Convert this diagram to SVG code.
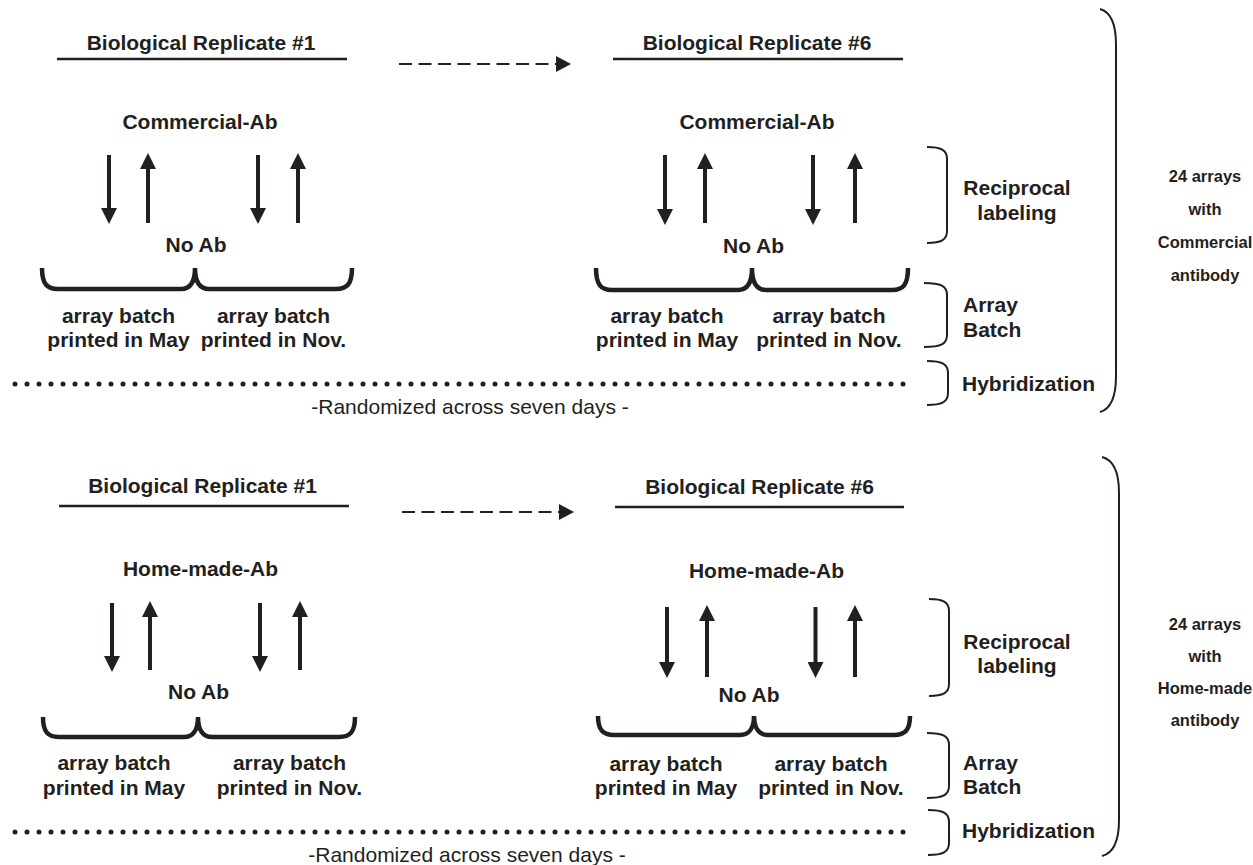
<svg xmlns="http://www.w3.org/2000/svg" width="1253" height="865" viewBox="0 0 1253 865">
<defs>
<style>
.t{font-family:"Liberation Sans",Arial,Helvetica,sans-serif;font-weight:bold;font-size:21px;fill:#231f20;text-anchor:middle}
.r{font-weight:normal;font-size:21px}
.l{text-anchor:start}
.big{font-size:16.5px}
.rule{stroke:#231f20;stroke-width:2.5;fill:none}
.arr{stroke:#231f20;stroke-width:4;fill:none;marker-end:url(#ah)}
.dash{stroke:#231f20;stroke-width:2;fill:none;stroke-dasharray:13 6.5;marker-end:url(#dh)}
.brace{fill:none;stroke:#231f20;stroke-width:4.5}
.sb{fill:none;stroke:#231f20;stroke-width:2}
.dots{stroke:#231f20;stroke-width:5;stroke-linecap:round;stroke-dasharray:0 12;fill:none}
</style>
<marker id="ah" markerUnits="userSpaceOnUse" markerWidth="16" markerHeight="16" refX="6" refY="8" orient="auto"><path d="M0,0 L16,8 L0,16 z" fill="#231f20"/></marker>
<marker id="dh" markerUnits="userSpaceOnUse" markerWidth="15" markerHeight="16" refX="0" refY="8" orient="auto"><path d="M0,0 L15,8 L0,16 z" fill="#231f20"/></marker>
</defs>
<rect width="1253" height="865" fill="#ffffff"/>

<!-- ===== TOP SECTION ===== -->
<g id="top-rep1">
<text class="t" x="201" y="50">Biological Replicate #1</text>
<line class="rule" x1="57" y1="59" x2="347" y2="59"/>
<text class="t" x="200" y="129">Commercial-Ab</text>
<line class="arr" x1="109" y1="155" x2="109" y2="214"/>
<line class="arr" x1="148" y1="223" x2="148" y2="163"/>
<line class="arr" x1="258" y1="155" x2="258" y2="214"/>
<line class="arr" x1="298" y1="223" x2="298" y2="163"/>
<text class="t" x="196" y="252">No Ab</text>
<path class="brace" d="M42 268 C42 284 47 289 58 289 L181 289 C190 289 195 282 195 268 C195 282 200 289 209 289 L336 289 C347 289 352 284 352 268"/>
<text class="t" x="118.5" y="323">array batch</text>
<text class="t" x="118.5" y="347">printed in May</text>
<text class="t" x="273.5" y="323">array batch</text>
<text class="t" x="273.5" y="347">printed in Nov.</text>
</g>

<g id="top-rep6">
<text class="t" x="757" y="50">Biological Replicate #6</text>
<line class="rule" x1="613" y1="59" x2="903" y2="59"/>
<text class="t" x="757" y="129">Commercial-Ab</text>
<line class="arr" x1="665" y1="155" x2="665" y2="215"/>
<line class="arr" x1="705" y1="223" x2="705" y2="163"/>
<line class="arr" x1="813" y1="155" x2="813" y2="215"/>
<line class="arr" x1="855" y1="223" x2="855" y2="163"/>
<text class="t" x="753.5" y="253">No Ab</text>
<path class="brace" d="M596 268 C596 285 601 290 612 290 L738 290 C747 290 752 283 752 268 C752 283 757 290 766 290 L892 290 C903 290 908 285 908 268"/>
<text class="t" x="667" y="323">array batch</text>
<text class="t" x="667" y="347">printed in May</text>
<text class="t" x="829" y="323">array batch</text>
<text class="t" x="829" y="347">printed in Nov.</text>
</g>

<g id="top-hyb">
<line class="dots" x1="15" y1="384" x2="915" y2="384"/>
<text class="t r" x="470" y="414">-Randomized across seven days -</text>
</g>

<g id="top-labels">
<path class="sb" d="M927 147 C941 147 947 150 947 159 L947 231 C947 240 941 243 927 243"/>
<text class="t" x="1017" y="195">Reciprocal</text>
<text class="t" x="1017" y="220">labeling</text>
<path class="sb" d="M924 283 C941 283 947 286 947 295 L947 335 C947 344 941 347 924 347"/>
<text class="t l" x="963" y="312">Array</text>
<text class="t l" x="963" y="337">Batch</text>
<path class="sb" d="M927 361 C942 361 948 364 948 373 L948 393 C948 402 942 405 927 405"/>
<text class="t l" x="962" y="391">Hybridization</text>
</g>

<g id="top-total">
<path class="sb" d="M1100 9 C1111 12 1116 24 1116 45 L1116 376 C1116 397 1111 409 1100 412"/>
<text class="t big" x="1205" y="182">24 arrays</text>
<text class="t big" x="1205" y="215">with</text>
<text class="t big" x="1205" y="248">Commercial</text>
<text class="t big" x="1205" y="281">antibody</text>
</g>

<!-- ===== BOTTOM SECTION ===== -->
<g id="bot-rep1">
<text class="t" x="202.5" y="493">Biological Replicate #1</text>
<line class="rule" x1="59" y1="506" x2="349" y2="506"/>
<text class="t" x="200.5" y="576">Home-made-Ab</text>
<line class="arr" x1="112" y1="603" x2="112" y2="662"/>
<line class="arr" x1="150" y1="670" x2="150" y2="611"/>
<line class="arr" x1="260" y1="603" x2="260" y2="662"/>
<line class="arr" x1="300" y1="670" x2="300" y2="611"/>
<text class="t" x="198.5" y="699">No Ab</text>
<path class="brace" d="M43 717 C43 732 48 737 59 737 L184 737 C193 737 198 730 198 717 C198 730 203 737 212 737 L339 737 C350 737 355 732 355 717"/>
<text class="t" x="114" y="770">array batch</text>
<text class="t" x="114" y="795">printed in May</text>
<text class="t" x="289.5" y="770">array batch</text>
<text class="t" x="289.5" y="795">printed in Nov.</text>
</g>

<g id="bot-rep6">
<text class="t" x="759.5" y="494">Biological Replicate #6</text>
<line class="rule" x1="615" y1="507" x2="904" y2="507"/>
<text class="t" x="766.5" y="578">Home-made-Ab</text>
<line class="arr" x1="667" y1="607" x2="667" y2="668"/>
<line class="arr" x1="707" y1="677" x2="707" y2="615"/>
<line class="arr" x1="815.5" y1="607" x2="815.5" y2="668"/>
<line class="arr" x1="855" y1="677" x2="855" y2="615"/>
<text class="t" x="749" y="702">No Ab</text>
<path class="brace" d="M598 716 C598 730 603 735 614 735 L740 735 C749 735 754 728 754 716 C754 728 759 735 768 735 L894 735 C905 735 910 730 910 716"/>
<text class="t" x="666" y="771">array batch</text>
<text class="t" x="666" y="795">printed in May</text>
<text class="t" x="831" y="771">array batch</text>
<text class="t" x="831" y="795">printed in Nov.</text>
</g>

<g id="bot-hyb">
<line class="dots" x1="15" y1="832" x2="915" y2="832"/>
<text class="t r" x="467" y="862">-Randomized across seven days -</text>
</g>

<g id="bot-labels">
<path class="sb" d="M929 599 C943 599 949 602 949 611 L949 684 C949 693 943 696 929 696"/>
<text class="t" x="1017" y="649">Reciprocal</text>
<text class="t" x="1017" y="673">labeling</text>
<path class="sb" d="M927 733 C943 733 949 736 949 745 L949 786 C949 795 943 798 927 798"/>
<text class="t l" x="963" y="770">Array</text>
<text class="t l" x="963" y="794">Batch</text>
<path class="sb" d="M928 810 C943 810 949 813 949 822 L949 843 C949 852 943 855 928 855"/>
<text class="t l" x="962" y="838">Hybridization</text>
</g>

<g id="bot-total">
<path class="sb" d="M1102 457 C1114 460 1119 472 1119 493 L1119 820 C1119 841 1114 853 1102 856"/>
<text class="t big" x="1205" y="630">24 arrays</text>
<text class="t big" x="1205" y="662">with</text>
<text class="t big" x="1205" y="694">Home-made</text>
<text class="t big" x="1205" y="726">antibody</text>
</g>

<g id="connectors">
<line class="dash" x1="399" y1="64" x2="556" y2="64"/>
<line class="dash" x1="402" y1="512" x2="559" y2="512"/>
</g>
</svg>
